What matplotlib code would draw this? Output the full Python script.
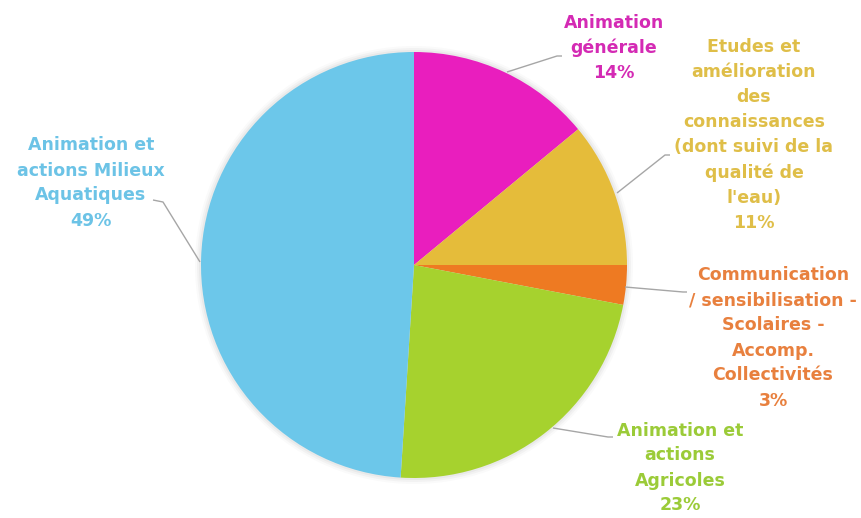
import matplotlib
matplotlib.use("Agg")
import matplotlib.pyplot as plt
import matplotlib.patches as mpatches

# slices, clockwise from the top
LABELS = [
    "Animation\ngénérale",
    "Etudes et\namélioration\ndes\nconnaissances\n(dont suivi de la\nqualité de\nl'eau)",
    "Communication\n/ sensibilisation -\nScolaires -\nAccomp.\nCollectivités",
    "Animation et\nactions\nAgricoles",
    "Animation et\nactions Milieux\nAquatiques",
]
VALUES = [14, 11, 3, 23, 49]
COLORS = ["#E91EBE", "#E5BC3A", "#EE7A22", "#A6D22E", "#6CC7EA"]
TEXT_COLORS = ["#D42AB4", "#DFBE48", "#E8803E", "#9BCB38", "#6CC3E6"]

W, H = 861, 518


def px(x, y):
    # pixel coords (origin top-left) -> data coords
    return x, H - y


def main() -> None:
    plt.rcParams["font.family"] = ["DejaVu Sans"]

    fig = plt.figure(figsize=(W / 100, H / 100), dpi=100)
    ax = fig.add_axes([0, 0, 1, 1])

    center = px(414, 265)
    # faint soft shadow around the pie
    for r, a in [(219, 0.04), (217, 0.06), (215, 0.08)]:
        ax.add_patch(mpatches.Circle(center, r, color="#808080", alpha=a, linewidth=0))

    ax.pie(
        VALUES,
        colors=COLORS,
        startangle=90,
        counterclock=False,
        radius=213,
        center=center,
        wedgeprops={"linewidth": 0},
        frame=True,
    )
    ax.set_xlim(0, W)
    ax.set_ylim(0, H)
    ax.set_aspect("equal")
    ax.axis("off")

    # label placement (text centre) and leader line in pixel coords
    label_pos = [(614, 48), (754, 135), (773, 338), (680, 468), (91, 183)]
    leaders = [
        [(507, 72), (557, 56), (562, 56)],
        [(617, 193), (665, 155), (670, 155)],
        [(625, 287), (683, 292), (687, 292)],
        [(553, 428), (608, 437), (613, 437)],
        [(200, 262), (163, 202), (153, 200)],
    ]

    for label, val, tc, (x, y), pts in zip(LABELS, VALUES, TEXT_COLORS, label_pos, leaders):
        xs, ys = zip(*[px(a, b) for a, b in pts])
        ax.plot(xs, ys, color="#A6A6A6", linewidth=1.0, solid_capstyle="butt")
        ax.text(
            *px(x, y),
            f"{label}\n{val}%",
            ha="center",
            va="center",
            color=tc,
            fontsize=12.5,
            fontweight="bold",
            linespacing=1.5,
        )

    fig.savefig("out.png", dpi=100)


if __name__ == "__main__":
    main()
